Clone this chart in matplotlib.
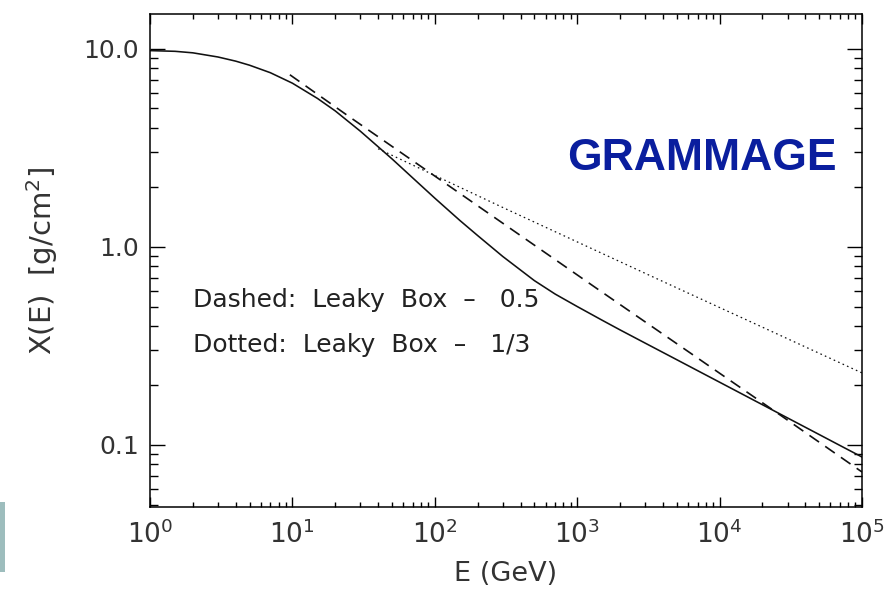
import numpy as np
import matplotlib.pyplot as plt
from matplotlib.ticker import FuncFormatter, NullFormatter, LogLocator
from matplotlib.patches import Rectangle

# solid curve: grammage vs energy
energy = [1, 1.5, 2, 3, 4, 5, 7, 10, 15, 20, 30, 50, 70, 100, 150, 200, 300,
          500, 700, 1000, 1500, 2000, 3000, 5000, 7000, 1e4, 2e4, 3e4, 5e4,
          7e4, 1e5]
grammage = [9.8, 9.72, 9.55, 9.10, 8.67, 8.27, 7.58, 6.71, 5.62, 4.86, 3.84,
            2.785, 2.23, 1.763, 1.36, 1.141, 0.895, 0.676, 0.578, 0.50,
            0.426, 0.381, 0.3268, 0.2695, 0.2373, 0.2074, 0.1596, 0.1369,
            0.1129, 0.0994, 0.0869]

# leaky box, delta = 0.5 (dashed)
e_dash = [9.6, 25, 130, 1450, 26500, 1e5]
x_dash = [7.4, 4.55, 2.0, 0.60, 0.142, 0.073]

# leaky box, delta = 1/3 (dotted)
e_dot = [40, 290, 3200, 1e5]
x_dot = [3.13, 1.6, 0.72, 0.231]

plt.rcParams['font.family'] = 'DejaVu Sans'

fig = plt.figure(figsize=(8.88, 5.91), dpi=100)
ax = fig.add_axes([150/888, 84/591, 712/888, 493/591])

ax.plot(energy, grammage, color='#111111', lw=1.15)
ax.plot(e_dash, x_dash, color='#111111', lw=1.2, dashes=(7, 4.5))
ax.plot(e_dot, x_dot, color='#111111', lw=0.9, dashes=(1.3, 2.6))

ax.set_xscale('log')
ax.set_yscale('log')
ax.set_xlim(1, 1e5)
ax.set_ylim(0.0486, 15.0)

ax.yaxis.set_major_locator(LogLocator(base=10))
ax.yaxis.set_major_formatter(FuncFormatter(lambda v, p: '%.1f' % v))
ax.yaxis.set_minor_formatter(NullFormatter())
ax.xaxis.set_minor_formatter(NullFormatter())

ax.tick_params(which='both', direction='in', top=True, right=True,
               width=1.0, color='black')
ax.tick_params(axis='y', which='major', length=10.8, pad=8, labelsize=18)
ax.tick_params(axis='y', which='minor', length=5.8)
ax.tick_params(axis='x', which='major', length=7.5, pad=10, labelsize=19)
ax.tick_params(axis='x', which='minor', length=3.8)
for lbl in ax.get_xticklabels() + ax.get_yticklabels():
    lbl.set_color('#333333')
for s in ax.spines.values():
    s.set_linewidth(1.1)

ax.set_xlabel('E (GeV)', fontsize=19.5, color='#333333')
ax.set_ylabel('X(E)  [g/cm$^2$]', fontsize=21, color='#333333')
ax.xaxis.set_label_coords(0.5, -0.11)
ax.yaxis.set_label_coords(-0.127, 0.5)

ax.text(0.0604, 0.4057, 'Dashed:  Leaky  Box  \u2013   0.5', transform=ax.transAxes,
        fontsize=18, color='#222222', va='baseline', ha='left')
ax.text(0.0604, 0.3144, 'Dotted:  Leaky  Box  \u2013   1/3', transform=ax.transAxes,
        fontsize=18, color='#222222', va='baseline', ha='left')

ax.text(0.775, 0.6836, 'GRAMMAGE', transform=ax.transAxes, family='Liberation Sans',
        fontweight='bold', fontsize=32, color='#0a1e9e', ha='center', va='baseline')

# slide edge strip at the bottom left
fig.patches.append(Rectangle((0, 19/591), 5/888, 70/591, transform=fig.transFigure,
                             facecolor='#9dbdbd', edgecolor='none'))

fig.savefig('out.png', dpi=100)
